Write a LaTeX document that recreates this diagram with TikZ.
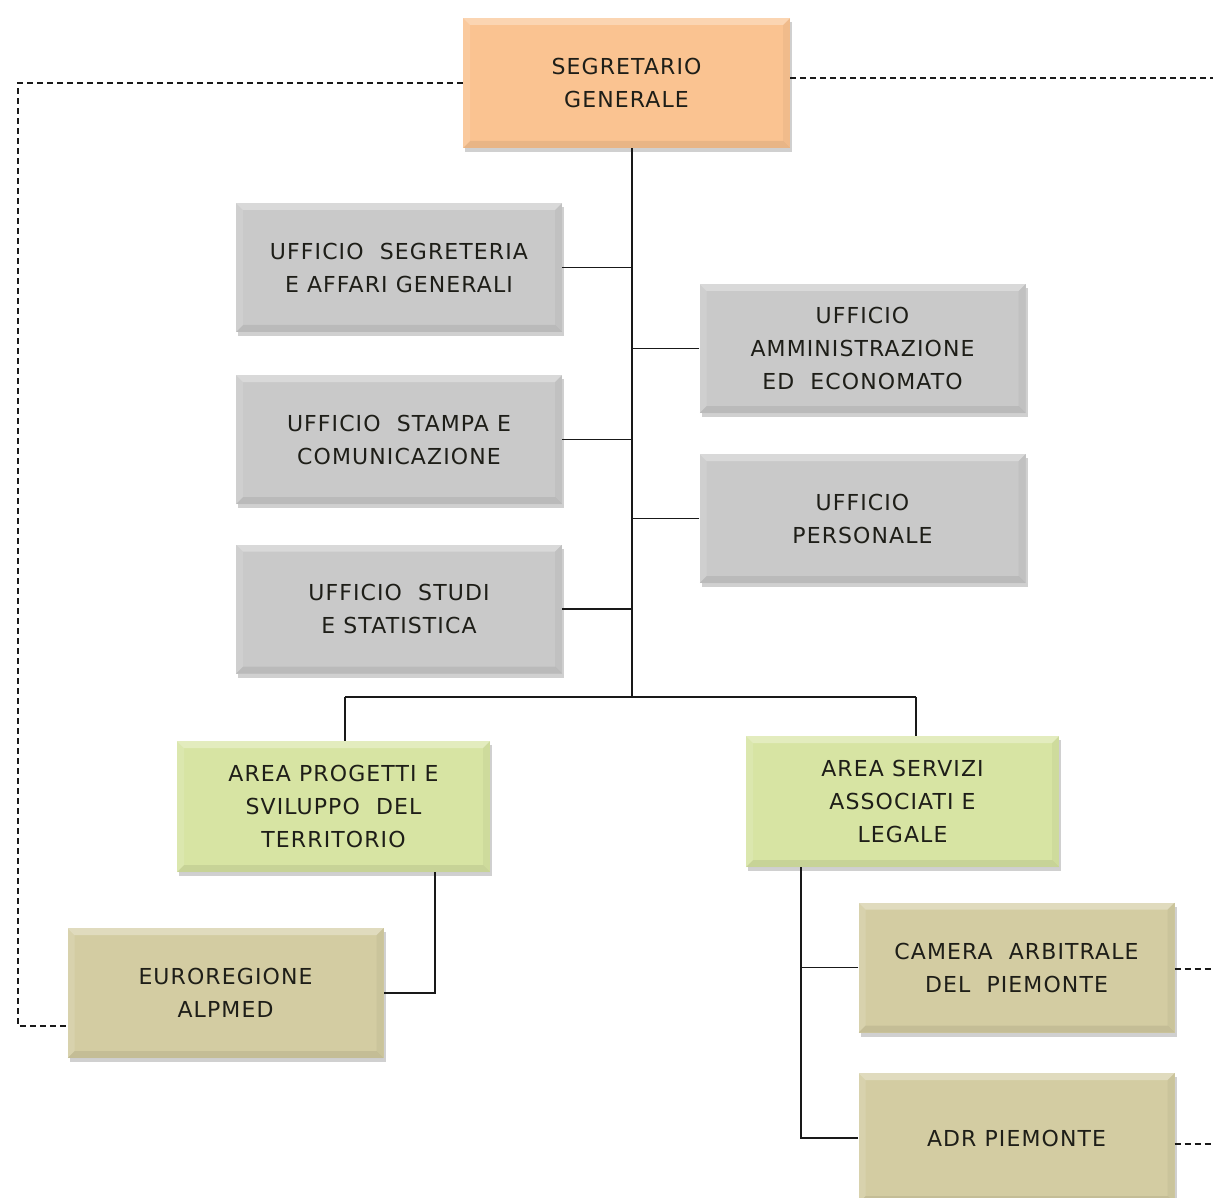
\documentclass[tikz,border=0pt]{standalone}
\usepackage{fontspec}
\setmainfont[LetterSpace=5]{DejaVu Sans}
\usetikzlibrary{shadows}
\definecolor{cOrange}{HTML}{FAC391}
\definecolor{cGray}{HTML}{C9C9C9}
\definecolor{cGreen}{HTML}{D7E4A3}
\definecolor{cKhaki}{HTML}{D3CCA2}
\definecolor{cText}{HTML}{1E1E18}
\tikzset{
  box/.style={rectangle, inner sep=0pt, align=center, text=cText,
    font=\fontsize{22}{33}\selectfont,
    drop shadow={shadow xshift=2pt, shadow yshift=-4pt, opacity=0.3, fill=black!60},
    path picture={
      \fill[white,opacity=0.3] (path picture bounding box.north west) -- (path picture bounding box.north east)
        -- ([xshift=-7pt,yshift=-7pt]path picture bounding box.north east) -- ([xshift=7pt,yshift=-7pt]path picture bounding box.north west) -- cycle;
      \fill[black,opacity=0.07] (path picture bounding box.south west) -- (path picture bounding box.south east)
        -- ([xshift=-7pt,yshift=7pt]path picture bounding box.south east) -- ([xshift=7pt,yshift=7pt]path picture bounding box.south west) -- cycle;
      \fill[black,opacity=0.04] (path picture bounding box.north east) -- (path picture bounding box.south east)
        -- ([xshift=-7pt,yshift=7pt]path picture bounding box.south east) -- ([xshift=-7pt,yshift=-7pt]path picture bounding box.north east) -- cycle;
      \fill[white,opacity=0.12] (path picture bounding box.north west) -- (path picture bounding box.south west)
        -- ([xshift=7pt,yshift=7pt]path picture bounding box.south west) -- ([xshift=7pt,yshift=-7pt]path picture bounding box.north west) -- cycle;
    }},
  topbox/.style={box, fill=cOrange, minimum width=327pt, minimum height=130pt},
  graybox/.style={box, fill=cGray, minimum width=326pt, minimum height=129pt},
  greenbox/.style={box, fill=cGreen, minimum width=313pt, minimum height=131pt},
  khakibox/.style={box, fill=cKhaki, minimum width=316pt, minimum height=130pt},
  link/.style={draw=black!90, line width=1.8pt},
  dlink/.style={draw=black!90, line width=1.8pt, dash pattern=on 6pt off 4pt}
}
\begin{document}
\begin{tikzpicture}[x=1pt,y=-1pt]
\useasboundingbox[fill=white] (0,0) rectangle (1213,1198);

\node[topbox] (sg) at (626.5,83) {SEGRETARIO\\GENERALE};

\node[graybox] (seg) at (399,267.5) {UFFICIO\ \ SEGRETERIA\\E AFFARI GENERALI};
\node[graybox] (sta) at (399,439.5) {UFFICIO\ \ STAMPA E\\COMUNICAZIONE};
\node[graybox] (stu) at (399,609) {UFFICIO\ \ STUDI\\E STATISTICA};
\node[graybox] (amm) at (862.5,348.5) {UFFICIO\\AMMINISTRAZIONE\\ED\ \ ECONOMATO};
\node[graybox] (per) at (862.5,518.5) {UFFICIO\\PERSONALE};

\node[greenbox] (apt) at (333.5,806.5) {AREA PROGETTI E\\SVILUPPO\ \ DEL\\TERRITORIO};
\node[greenbox] (asl) at (902.5,801.5) {AREA SERVIZI\\ASSOCIATI E\\LEGALE};

\node[khakibox] (eur) at (225.5,993) {EUROREGIONE\\ALPMED};
\node[khakibox] (cam) at (1016.5,967.5) {CAMERA\ \ ARBITRALE\\DEL\ \ PIEMONTE};
\node[khakibox] (adr) at (1016.5,1138) {ADR PIEMONTE};

% solid connectors
\coordinate (trunk) at (632,697);
\coordinate (busL) at (345,697);
\coordinate (busR) at (916,697);
\coordinate (dropL) at (435,0);
\coordinate (dropR) at (801,0);

\draw[link] (sg.south -| trunk) -- (trunk);
\draw[link] (seg.east) -- (seg.east -| trunk);
\draw[link] (sta.east) -- (sta.east -| trunk);
\draw[link] (stu.east) -- (stu.east -| trunk);
\draw[link] (amm.west) -- (amm.west -| trunk);
\draw[link] (per.west) -- (per.west -| trunk);
\draw[link] (busL) -- (busR);
\draw[link] (busL) -- (busL |- apt.north);
\draw[link] (busR) -- (busR |- asl.north);
\draw[link] (apt.south -| dropL) |- (eur.east);
\draw[link] (asl.south -| dropR) |- (adr.west);
\draw[link] (cam.west) -- (cam.west -| dropR);

% dashed connectors
\coordinate (dl) at (18,0);
\coordinate (rt) at (1213,0);
\coordinate (eurL) at ([yshift=-33pt]eur.west);
\draw[dlink] (sg.west) -- (sg.west -| dl) -- (dl |- eurL) -- (eurL);
\draw[dlink] ([yshift=5pt]sg.east) -- ([yshift=5pt]sg.east -| rt);
\draw[dlink] ([yshift=-1.5pt]cam.east) -- ([yshift=-1.5pt]cam.east -| rt);
\draw[dlink] ([yshift=-6pt]adr.east) -- ([yshift=-6pt]adr.east -| rt);
\end{tikzpicture}
\end{document}
